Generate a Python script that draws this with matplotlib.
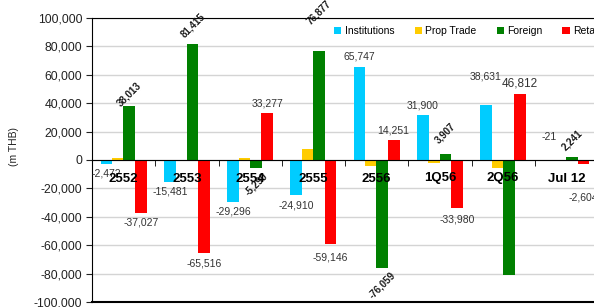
import numpy as np
import matplotlib.pyplot as plt
from matplotlib.ticker import FuncFormatter

plt.rcParams['font.family'] = ['Liberation Sans', 'DejaVu Sans']

categories = ['2552', '2553', '2554', '2555', '2556', '1Q56', '2Q56', 'Jul 12']
institutions = [-2472, -15481, -29296, -24910, 65747, 31900, 38631, -21]
prop_trade = [1500, 300, 1200, 7500, -3900, -1800, -5300, -300]
foreign = [38013, 81415, -5290, 76877, -76059, 3907, -80800, 2241]
retail = [-37027, -65516, 33277, -59146, 14251, -33980, 46812, -2604]
series_names = ['Institutions', 'Prop Trade', 'Foreign', 'Retail']

colors = ['#00ccff', '#ffcc00', '#008000', '#ff0000']

# label offsets (pixels) tuned to the reference; None = no label
inst_dy = [-10, -10, -10, -10, 10, 9, 29, 23]
retail_dy = [-10, -10, 9, -14, 9, -11, 10, -34]
foreign_dy = [12, 19, -17, 38, -17, 21, None, 17]

fig = plt.figure(figsize=(5.94, 3.07), dpi=100)
ax = fig.add_axes([92 / 594, 5 / 307, 506 / 594, 284 / 307])

x = np.arange(len(categories))
w = 0.185
offs = [-0.27, -0.09, 0.09, 0.27]
data = [institutions, prop_trade, foreign, retail]
for vals, off, c, name in zip(data, offs, colors, series_names):
    ax.bar(x + off, vals, width=w, color=c, label=name, zorder=3)

fmt = lambda v: f'{v:,}'

for i, v in enumerate(institutions):
    ax.annotate(fmt(v), (x[i] + offs[0], v), xytext=(0, inst_dy[i]), textcoords='offset pixels',
                ha='center', va='center', fontsize=7.5, color='#333333', zorder=5)
for i, v in enumerate(retail):
    fs = 8.5 if i == 6 else 7.5
    ax.annotate(fmt(v), (x[i] + offs[3], v), xytext=(0, retail_dy[i]), textcoords='offset pixels',
                ha='center', va='center', fontsize=fs, color='#333333', zorder=5,
                annotation_clip=False)
for i, v in enumerate(foreign):
    if foreign_dy[i] is None:
        continue
    ax.annotate(fmt(v), (x[i] + offs[2], v), xytext=(0, foreign_dy[i]), textcoords='offset pixels',
                ha='center', va='center', fontsize=7, fontweight='bold', rotation=45,
                color='#1a1a1a', zorder=5, annotation_clip=False)

ax.set_xlim(-0.5, len(categories) - 0.5)
ax.set_ylim(-100000, 100000)
ax.set_yticks(np.arange(-100000, 100001, 20000))
ax.yaxis.set_major_formatter(FuncFormatter(lambda v, p: f'{int(v):,}'))
ax.tick_params(axis='y', direction='out', length=4, labelsize=8.8, colors='#222222', pad=3)
ax.grid(axis='y', color='#d4d4d4', linewidth=1, zorder=0)

ax.spines['bottom'].set_position(('data', 0))
ax.spines['right'].set_visible(False)
for s in ['left', 'top', 'bottom']:
    ax.spines[s].set_color('black')
    ax.spines[s].set_zorder(4)
ax.axhline(-100000, color='black', linewidth=1.5, clip_on=False, zorder=4)

ax.set_xticks(x)
ax.set_xticklabels(categories, fontweight='bold', fontsize=9.5)
ax.tick_params(axis='x', which='major', length=0, pad=9)
ax.set_xticks(np.arange(len(categories) + 1) - 0.5, minor=True)
ax.tick_params(axis='x', which='minor', direction='out', length=4, color='black')
ax.xaxis.set_zorder(6)

fig.text(14 / 594, 1 - 147 / 307, '(m THB)', rotation=90, ha='center', va='center',
         fontsize=7.5, color='#222222')

ax.legend(loc='upper left', bbox_to_anchor=((330 - 92) / 506, 0.985), ncol=4, frameon=False,
          fontsize=7.5, handlelength=0.7, handleheight=0.7, handletextpad=0.35,
          columnspacing=1.9, borderaxespad=0)

fig.savefig('out.png', dpi=100)
